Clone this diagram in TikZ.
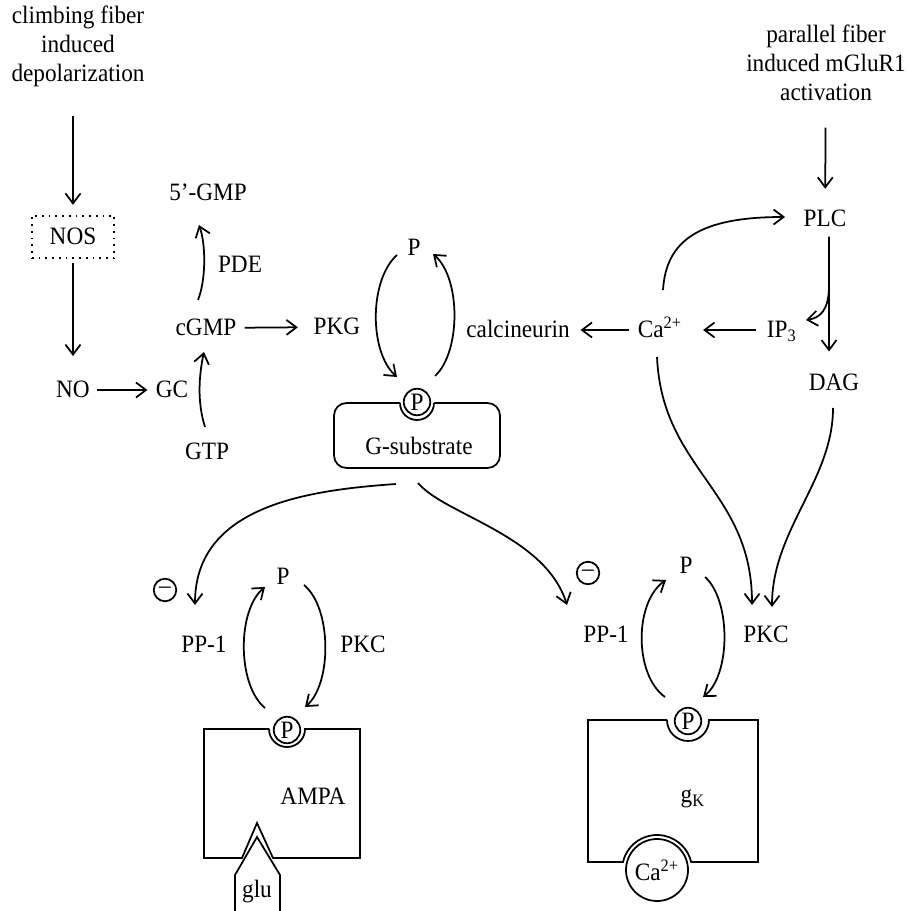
\documentclass[tikz,border=0pt]{standalone}
\usepackage{fontspec}
\setmainfont{Liberation Serif}[FakeStretch=0.93]
\usetikzlibrary{arrows.meta,calc}

\begin{document}
\begin{tikzpicture}[x=0.4pt,y=-0.4pt,line width=0.7pt,
    >={Straight Barb[length=4pt,width=6pt]},
    every node/.style={font=\fontsize{10}{11.6}\selectfont},
    lbl/.style={inner sep=1pt,text height=1.6ex,text depth=.25ex},
    pcirc/.style={draw,circle,inner sep=0pt,minimum size=10.6pt},
    neg/.style={draw,circle,inner sep=0pt,minimum size=9pt}]
  \useasboundingbox (0,0) rectangle (908,911);

  % triggers
  \node[align=center] (cf) at (78,46) {climbing fiber\\induced\\depolarization};
  \node[align=center] (pf) at (826,63) {parallel fiber\\induced mGluR1\\activation};

  % NO / cGMP branch
  \node[lbl,draw,dotted,minimum width=33pt,minimum height=17pt] (nos) at (73,237) {NOS};
  \node[lbl] (no) at (73,390) {NO};
  \node[lbl] (gc) at (172,390) {GC};
  \node[lbl] (gtp) at (207,452) {GTP};
  \node[lbl] (cgmp) at (206,328) {cGMP};
  \node[lbl] (gmp) at (208,193) {5'-GMP};
  \node[lbl] (pde) at (240,265) {PDE};
  \node[lbl] (pkg) at (337,327) {PKG};

  % G-substrate
  \node[lbl] (ptop) at (414,248) {P};
  \node[pcirc] (pG) at (417,402) {P};
  \node[lbl] (gsub) at (419,447) {G-substrate};
  \draw[rounded corners=5pt] (400,403) -- (334,403) -- (334,468) -- (500,468) -- (500,403) -- (434,403);
  \draw (434,403) arc[start angle=0,end angle=180,radius=17];

  % mGluR1 branch
  \node[lbl] (plc) at (825,219) {PLC};
  \node[lbl] (ip) at (782,330) {IP\textsubscript{3}};
  \node[lbl] (dag) at (834,383) {DAG};
  \node[lbl] (ca) at (660,330) {Ca\textsuperscript{2+}};
  \node[lbl] (calc) at (518,330) {calcineurin};

  % AMPA
  \node[neg] (negA) at (165,590) {--};
  \node[lbl] (pA) at (283,577) {P};
  \node[lbl] (ppA) at (204,645) {PP-1};
  \node[lbl] (pkcA) at (363,645) {PKC};
  \node[pcirc] (pAc) at (287,730) {P};
  \node[lbl] (ampa) at (313,797) {AMPA};
  \node[lbl] (glu) at (257,890) {glu};
  \draw (269,729) -- (204,729) -- (204,858) -- (242,858) -- (257,823) -- (273,858) -- (360,858) -- (360,729) -- (305,729) arc[start angle=0,end angle=180,radius=18];
  \draw (235,911) -- (235,875) -- (257,837) -- (280,875) -- (280,911);

  % gK
  \node[neg] (negK) at (588,573) {--};
  \node[lbl] (pK) at (686,566) {P};
  \node[lbl] (ppK) at (606,635) {PP-1};
  \node[lbl] (pkcK) at (766,635) {PKC};
  \node[pcirc] (pKc) at (688,721) {P};
  \node[lbl] (gk) at (693,795) {g\textsubscript{K}};
  \node[pcirc,minimum size=24.8pt] (caK) at (657,870) {Ca\textsuperscript{2+}};
  \draw (667,720) -- (588,720) -- (588,862) -- (623,862) arc[start angle=193.2,end angle=346.8,radius=35] -- (758,862) -- (758,720) -- (709,720) arc[start angle=0,end angle=180,radius=21];

  % connectors
  \draw[->,shorten <=8pt,shorten >=4pt] (cf.south -| nos.north) -- (nos.north);
  \draw[->,shorten <=1.5pt,shorten >=8pt] (nos) -- (no);
  \draw[->,shorten <=1.5pt,shorten >=2pt] (no) -- (gc);
  \draw[->] ($(gtp)+(-2,-25)$) .. controls +(-8,-25) and +(-5,23) .. ($(cgmp)+(-2,24)$);
  \draw[->] ($(cgmp)+(-8,-28)$) .. controls +(8,-20) and +(7,20) .. ($(gmp)+(-9,32)$);
  \draw[->,shorten <=2pt,shorten >=5pt] (cgmp) -- (pkg);
  \draw[->] ($(ptop)+(-17,7)$) .. controls +(-28,25) and +(-28,-25) .. ($(pG)+(-20,-25)$);
  \draw[->] ($(pG)+(18,-26)$) .. controls +(26,-24) and +(28,24) .. ($(ptop)+(19,6)$);

  \draw[->,shorten <=7pt,shorten >=6.5pt] (pf) -- (plc);
  \draw[->,shorten <=1.5pt,shorten >=7pt] ([xshift=1.6pt]plc.south) -- coordinate[pos=.385] (br) ([xshift=-2pt]dag.north);
  \draw[->] (br) .. controls +(0,25) and +(14,-2) .. ($(ip)+(24,-10)$);
  \draw[->,shorten <=3pt,shorten >=7pt] (ip) -- (ca);
  \draw[->,shorten <=2pt,shorten >=3pt] (ca) -- (calc);
  \draw[->] ($(ca)+(3,-40)$) .. controls +(3,-50) and +(-85,0) .. ($(plc)+(-40,-2)$);
  \draw[->] ($(ca)+(-3,27)$) .. controls +(5,113) and +(0,-115) .. ($(pkcK)+(-14,-30)$);
  \draw[->] ($(dag)+(-1,25)$) .. controls +(0,72) and +(0,-77) .. ($(pkcK)+(6,-28)$);

  \draw[->] ($(gsub)+(-23,37)$) .. controls +(-86,6) and +(0,-100) .. ($(ppA)+(-9,-40)$);
  \draw[->] ($(gsub)+(-1,36)$) .. controls +(27,32) and +(-22,-70) .. ($(ppK)+(-39,-30)$);

  \draw[->] ($(pAc)+(-22,-22)$) .. controls +(-28,-23) and +(-28,23) .. ($(pA)+(-18,10)$);
  \draw[->] ($(pA)+(21,8)$) .. controls +(28,23) and +(27,-23) .. ($(pAc)+(18,-23)$);
  \draw[->] ($(pKc)+(-23,-24)$) .. controls +(-31,-22) and +(-32,22) .. ($(pK)+(-20,14)$);
  \draw[->] ($(pK)+(19,11)$) .. controls +(26,23) and +(28,-22) .. ($(pKc)+(15,-24)$);
\end{tikzpicture}
\end{document}
